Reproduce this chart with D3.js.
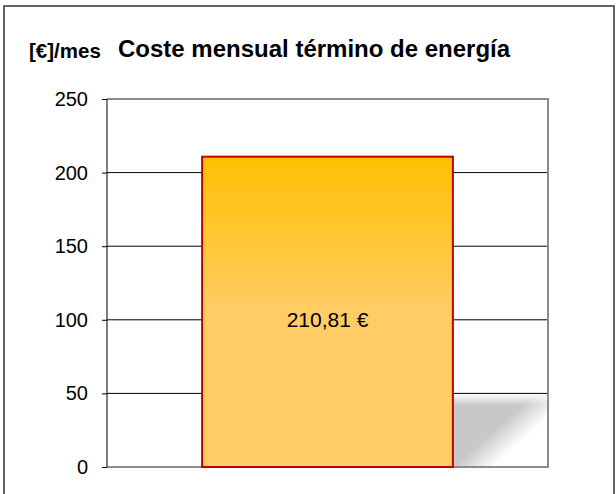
<!DOCTYPE html>
<html lang="es">
<head>
  <meta charset="UTF-8">
  <title>Coste mensual término de energía</title>
  <script src="https://d3js.org/d3.v7.min.js"></script>
  <style>
    body { margin: 0; background: #fff; }
    text { font-family: Arial, "Liberation Sans", sans-serif; }
  </style>
</head>
<body>
  <svg id="chart" width="616" height="494"></svg>
  <script>
    // data
    const categories = ["Energía"];
    const values = [210.81];
    const valueLabels = ["210,81 €"];
    const yTicks = [0, 50, 100, 150, 200, 250];

    const svg = d3.select("svg#chart");
    const margin = {top: 99, right: 68, bottom: 27, left: 107};
    const width = +svg.attr("width");
    const height = +svg.attr("height");

    const x = d3.scaleBand().domain(categories)
                .range([margin.left, width - margin.right])
                .padding(0.275);
    const y = d3.scaleLinear().domain([0, 250])
                .range([height - margin.bottom, margin.top]);

    const defs = svg.append("defs");

    // bar fill: orange on top, fading to light orange
    let barGrad = defs.append("linearGradient")
                      .attr("id", "barGrad")
                      .attr("x1", 0).attr("y1", 0).attr("x2", 0).attr("y2", 1);
    barGrad.append("stop").attr("offset", "0%").attr("stop-color", "#ffc000");
    barGrad.append("stop").attr("offset", "50%").attr("stop-color", "#ffcc66");
    barGrad.append("stop").attr("offset", "100%").attr("stop-color", "#ffcc66");

    // outer frame (bottom runs past the picture)
    svg.append("rect")
       .attr("x", 4).attr("y", 6)
       .attr("width", 610).attr("height", 520)
       .attr("fill", "none")
       .attr("stroke", "#333")
       .attr("stroke-width", 1.5);

    // shadow to the right of the bar
    const sx0 = x(categories[0]) + x.bandwidth(), sx1 = width - margin.right;
    const sy0 = y(50), sy1 = y(0);
    const cx = sx0 + (sx1 - sx0) * 0.6, cy = sy0 + (sy1 - sy0) * 0.55;
    let shGrad = defs.append("linearGradient")
                     .attr("id", "shGrad")
                     .attr("gradientUnits", "userSpaceOnUse")
                     .attr("x1", cx - 9).attr("y1", cy - 10)
                     .attr("x2", cx + 9).attr("y2", cy + 10);
    shGrad.append("stop").attr("offset", "0%").attr("stop-color", "#c8c8c8");
    shGrad.append("stop").attr("offset", "100%").attr("stop-color", "#ffffff");
    svg.append("rect")
       .attr("x", sx0).attr("y", sy0)
       .attr("width", sx1 - sx0).attr("height", sy1 - sy0)
       .attr("fill", "url(#shGrad)");
    let topFade = defs.append("linearGradient")
                      .attr("id", "topFade")
                      .attr("x1", 0).attr("y1", 0).attr("x2", 0).attr("y2", 1);
    topFade.append("stop").attr("offset", "0%").attr("stop-color", "#fff").attr("stop-opacity", 1);
    topFade.append("stop").attr("offset", "100%").attr("stop-color", "#fff").attr("stop-opacity", 0);
    svg.append("rect")
       .attr("x", sx0).attr("y", sy0)
       .attr("width", sx1 - sx0).attr("height", 12)
       .attr("fill", "url(#topFade)");

    // gridlines
    svg.append("g")
       .attr("class", "grid")
       .selectAll("line")
       .data(yTicks.filter(d => d > 0 && d < 250))
       .join("line")
       .attr("x1", margin.left).attr("x2", width - margin.right)
       .attr("y1", d => y(d)).attr("y2", d => y(d))
       .attr("stroke", "#000")
       .attr("stroke-width", 1);

    // plot frame: top, right, bottom in grey
    svg.append("path")
       .attr("d", `M${margin.left},${y(250)}H${width - margin.right}V${y(0)}H${margin.left}`)
       .attr("fill", "none")
       .attr("stroke", "#8c8c8c")
       .attr("stroke-width", 2);

    // bar
    svg.append("g")
       .selectAll("rect")
       .data(values)
       .join("rect")
       .attr("x", (d, i) => x(categories[i]))
       .attr("y", d => y(d))
       .attr("width", x.bandwidth())
       .attr("height", d => y(0) - y(d))
       .attr("fill", "url(#barGrad)")
       .attr("stroke", "#c00000")
       .attr("stroke-width", 2);

    // value label
    svg.append("g")
       .selectAll("text")
       .data(values)
       .join("text")
       .attr("x", (d, i) => x(categories[i]) + x.bandwidth() / 2)
       .attr("y", y(100) + 7)
       .attr("text-anchor", "middle")
       .style("font-size", "21px")
       .attr("fill", "#000")
       .text((d, i) => valueLabels[i]);

    // y axis
    let leftAxis = d3.axisLeft(y).tickValues(yTicks).tickSize(5).tickPadding(14);
    let axisG = svg.append("g")
       .attr("transform", `translate(${margin.left},0)`)
       .call(leftAxis);
    axisG.select(".domain").attr("d", `M0,${y(250)}V${y(0)}`).attr("stroke", "#000");
    axisG.selectAll(".tick line").attr("stroke", "#000");
    axisG.selectAll(".tick text")
         .style("font-size", "20px")
         .style("font-family", "Arial, 'Liberation Sans', sans-serif")
         .attr("fill", "#000");

    // titles
    svg.append("text")
       .attr("x", 29).attr("y", 58)
       .style("font", "bold 20.5px Arial, 'Liberation Sans', sans-serif")
       .text("[€]/mes");
    svg.append("text")
       .attr("x", 118).attr("y", 57)
       .style("font", "bold 24px Arial, 'Liberation Sans', sans-serif")
       .text("Coste mensual término de energía");
  </script>
</body>
</html>
